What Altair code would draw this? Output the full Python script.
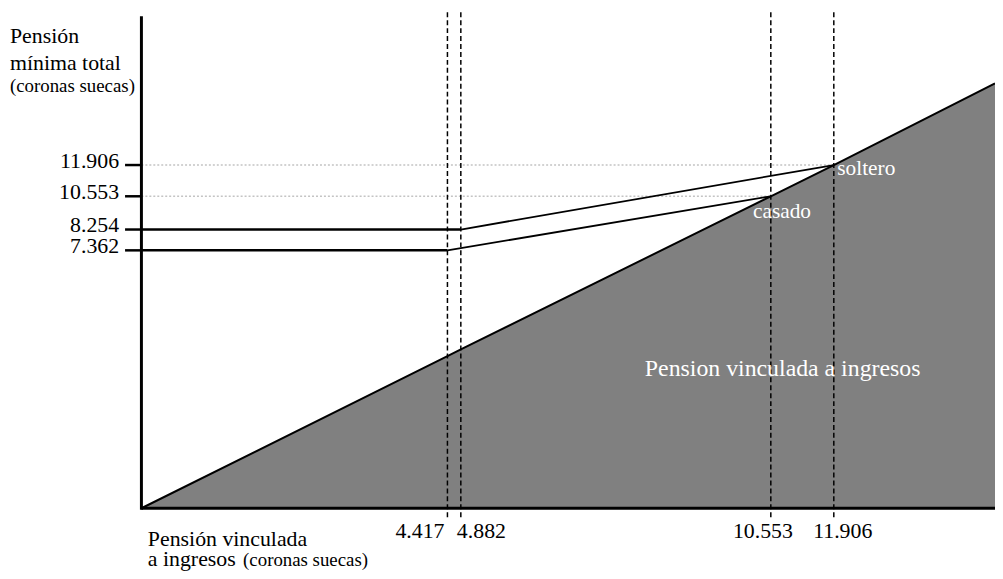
import altair as alt
import pandas as pd

FONT = "Liberation Serif"

# ---------------- data ----------------
diag_values = [0, 4417, 4882, 10553, 11906, 15400]          # pensión vinculada = pensión total (diagonal)
y_breaks = [0, 4417, 4882, 7362, 8254, 10553, 11906, 15400]  # schematic (non-linear) axis breakpoints
y_tick_values = [11906, 10553, 8254, 7362]
y_tick_labels = ["11.906", "10.553", "8.254", "7.362"]
x_tick_values = [4417, 4882, 10553, 11906]
x_tick_labels = ["4.417", "4.882", "10.553", "11.906"]
groups = ["soltero", "casado"]
min_pension = [8254, 7362]        # pensión mínima total garantizada
threshold_income = [4882, 4417]   # pensión vinculada donde empieza a reducirse la garantía
end_income = [11906, 10553]       # pensión vinculada donde termina la garantía
y_title = ["Pensión", "mínima total"]
x_title = ["Pensión vinculada", "a ingresos"]
unit_label = "(coronas suecas)"
area_label = "Pension vinculada a ingresos"

# ---------------- scales (schematic piecewise) ----------------
xs = alt.Scale(domain=diag_values,
               range=[134.5, 443, 456.5, 769, 832.5, 995], nice=False, zero=False)
ys = alt.Scale(domain=y_breaks,
               range=[502, 348.6, 341.9, 242, 221, 187.5, 156, 73.7], nice=False, zero=False)

def X(f):
    return alt.X(f, type="quantitative", scale=xs, axis=None)

def Y(f):
    return alt.Y(f, type="quantitative", scale=ys, axis=None)

diag_df = pd.DataFrame({"v": diag_values, "base": [0] * len(diag_values)})
ytick_df = pd.DataFrame({"val": y_tick_values, "lab": y_tick_labels, "zero": 0})
guide_df = pd.DataFrame({"val": end_income, "zero": 0})
group_df = pd.DataFrame({"grupo": groups, "minimo": min_pension, "umbral": threshold_income,
                         "fin": end_income, "zero": 0})
xtick_df = pd.DataFrame({"val": x_tick_values, "lab": x_tick_labels})
axis_df = pd.DataFrame({"zero": [0], "xmax": [diag_values[-1]]})

area = alt.Chart(diag_df).mark_area(color="#808080", opacity=1).encode(
    x=X("v"), y=Y("v"), y2=alt.Y2("base"))
diag = alt.Chart(diag_df).mark_line(color="black", strokeWidth=2).encode(x=X("v"), y=Y("v"))

guides = alt.Chart(guide_df).mark_rule(color="#c4c4c4", strokeDash=[2, 2], strokeWidth=1.5).encode(
    x=X("zero"), x2=alt.X2("val"), y=Y("val"))

yticks = alt.Chart(ytick_df).mark_rule(color="black", strokeWidth=2.5).encode(
    x=X("zero"), x2=alt.value(118), y=Y("val"))

horiz = alt.Chart(group_df).mark_rule(color="black", strokeWidth=2.5).encode(
    x=X("zero"), x2=alt.X2("umbral"), y=Y("minimo"))
slope = alt.Chart(group_df).mark_rule(color="black", strokeWidth=1.8).encode(
    x=X("umbral"), x2=alt.X2("fin"), y=Y("minimo"), y2=alt.Y2("fin"))

dashed = alt.Chart(xtick_df).mark_rule(color="black", strokeDash=[5, 3], strokeWidth=1.5).encode(
    x=X("val"), y=alt.value(2), y2=alt.value(513))

xaxis = alt.Chart(axis_df).mark_rule(color="black", strokeWidth=3).encode(
    x=X("zero"), x2=alt.X2("xmax"), y=Y("zero"))
yaxis = alt.Chart(axis_df).mark_rule(color="black", strokeWidth=3).encode(
    x=X("zero"), y=alt.value(6), y2=alt.value(503.5))

ylabels = alt.Chart(ytick_df).mark_text(align="right", baseline="alphabetic", dy=2.5,
                                        font=FONT, fontSize=22, color="black").encode(
    x=alt.value(112), y=Y("val"), text="lab:N")

xlab_style = [("right", -3), ("left", -4), ("center", -8), ("center", 9)]
xlabels = []
for i, (al, dx) in enumerate(xlab_style):
    xlabels.append(
        alt.Chart(xtick_df.iloc[[i]]).mark_text(align=al, dx=dx, baseline="alphabetic",
                                                font=FONT, fontSize=22, color="black").encode(
            x=X("val"), y=alt.value(532), text="lab:N"))

sol = alt.Chart(group_df).transform_filter(alt.datum.grupo == "soltero").mark_text(
    align="left", baseline="alphabetic", dx=3.5, dy=10.3, font=FONT, fontSize=21.5, color="white").encode(
    x=X("fin"), y=Y("fin"), text="grupo:N")
cas = alt.Chart(group_df).transform_filter(alt.datum.grupo == "casado").mark_text(
    align="left", baseline="alphabetic", dx=-18, dy=21.8, font=FONT, fontSize=21.5, color="white").encode(
    x=X("fin"), y=Y("fin"), text="grupo:N")


def txt(s, x, y, size=22, color="black"):
    return alt.Chart(pd.DataFrame({"t": [s]})).mark_text(
        align="left", baseline="alphabetic", font=FONT, fontSize=size, color=color).encode(
        x=alt.value(x), y=alt.value(y), text="t:N")


texts = [
    txt(y_title[0], 2, 33),
    txt(y_title[1], 2, 60),
    txt(unit_label, 2, 82, size=19),
    txt(x_title[0], 141, 540),
    txt(x_title[1], 141, 560),
    txt(unit_label, 237, 560, size=19),
    txt(area_label, 642, 368.7, size=24, color="white"),
]

chart = alt.layer(area, guides, yticks, horiz, slope, diag, dashed, xaxis, yaxis,
                  ylabels, *xlabels, sol, cas, *texts).properties(
    width=995, height=571, autosize=alt.AutoSizeParams(type="none"), padding=0
).configure_view(strokeWidth=0)

chart.save("out.html", embed_options={"renderer": "svg", "actions": False})
